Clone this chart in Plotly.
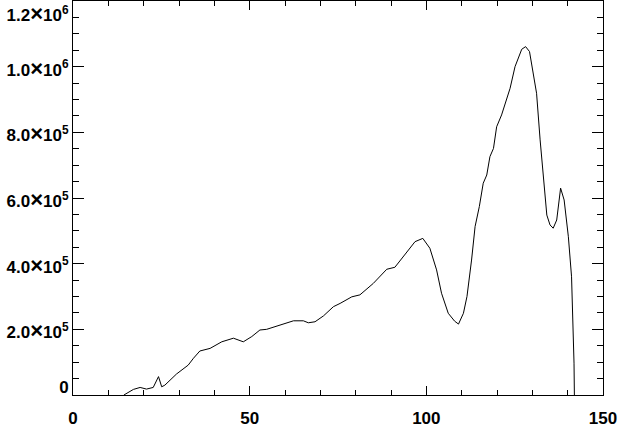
import plotly.graph_objects as go

# Data
x_vals = [14.4, 17.1, 19.0, 20.8, 22.7, 24.2, 25.1, 26.0, 29.3, 32.6, 34.1, 35.9,
          38.8, 42.1, 45.4, 48.2, 50.6, 52.9, 54.8, 58.6, 62.4, 65.2, 66.6, 68.5,
          70.9, 73.7, 75.6, 78.9, 81.2, 85.0, 88.8, 91.1, 94.4, 96.8, 99.0, 101.0,
          102.9, 104.3, 106.2, 108.0, 109.1, 110.5, 111.5, 112.4, 112.8, 113.8,
          115.0, 116.1, 117.1, 118.0, 119.0, 119.9, 121.3, 123.7, 125.1, 127.0,
          128.1, 129.2, 130.3, 131.2, 132.2, 133.1, 134.1, 135.0, 135.9, 136.9,
          138.0, 139.0, 140.2, 141.1, 141.6, 141.8, 141.9]
y_vals = [0, 17e3, 23e3, 18e3, 23e3, 56e3, 25e3, 30e3, 64e3, 91e3, 112e3, 134e3,
          142e3, 162e3, 173e3, 162e3, 178e3, 198e3, 200e3, 213e3, 226e3, 226e3, 220e3, 223e3,
          241e3, 269e3, 279e3, 299e3, 305e3, 340e3, 383e3, 389e3, 436e3, 467e3, 477e3, 447e3,
          381e3, 310e3, 249e3, 225e3, 216e3, 249e3, 300e3, 371e3, 411e3, 513e3,
          574e3, 645e3, 670e3, 726e3, 751e3, 817e3, 853e3, 934e3, 1000e3, 1053e3,
          1061e3, 1046e3, 970e3, 919e3, 777e3, 655e3, 548e3, 518e3, 508e3, 533e3,
          630e3, 594e3, 482e3, 360e3, 198e3, 97e3, 0]

x_tickvals = [0, 50, 100, 150]
x_ticktext = ["0", "50", "100", "150"]
y_tickvals = [0, 2e5, 4e5, 6e5, 8e5, 1.0e6, 1.2e6]
y_mant = ["0", "2.0", "4.0", "6.0", "8.0", "1.0", "1.2"]
y_exp = ["", "5", "5", "5", "5", "6", "6"]

X = "<span style='font-size:22px'>×</span>"
y_ticktext = [m if e == "" else f"{m}{X}10<sup>{e}</sup>" for m, e in zip(y_mant, y_exp)]
# edge labels kept inside the picture, as in the reference
y_ticktext[0] = y_ticktext[0] + "<br>&nbsp;"
y_ticktext[-1] = "&nbsp;<br>" + y_ticktext[-1]

fig = go.Figure()
fig.add_trace(go.Scatter(x=x_vals, y=y_vals, mode="lines",
                         line=dict(color="black", width=1), hoverinfo="skip"))

font = dict(family="Liberation Sans, Arial, sans-serif", size=17, color="black",
            weight="bold")

fig.update_layout(
    width=618, height=427,
    margin=dict(l=73, r=15, t=1, b=32, autoexpand=False),
    paper_bgcolor="white", plot_bgcolor="white",
    showlegend=False,
    font=font,
    xaxis=dict(range=[0, 150], tickvals=x_tickvals, ticktext=x_ticktext,
               ticks="inside", ticklen=9, tickwidth=1, tickcolor="black",
               mirror="allticks", showline=True, linecolor="black", linewidth=1,
               showgrid=False, zeroline=False, tickfont=font, automargin=False,
               ticklabelstandoff=8, ticklabeloverflow="allow",
               minor=dict(dtick=10, tick0=0, ticks="inside", ticklen=5,
                          tickwidth=1, tickcolor="black", showgrid=False)),
    yaxis=dict(range=[0, 1.2e6 + 1], tickvals=y_tickvals, ticktext=y_ticktext,
               ticks="inside", ticklen=11, tickwidth=1, tickcolor="black",
               mirror="allticks", showline=True, linecolor="black", linewidth=1,
               showgrid=False, zeroline=False, tickfont=font, automargin=False,
               ticklabeloverflow="allow", ticklabelshift=3,
               minor=dict(dtick=5e4, tick0=0, ticks="inside", ticklen=6,
                          tickwidth=1, tickcolor="black", showgrid=False)),
)

fig.write_html("out.html", config={"displayModeBar": False},
               post_script="document.body.style.margin='0';document.body.style.padding='0';")
